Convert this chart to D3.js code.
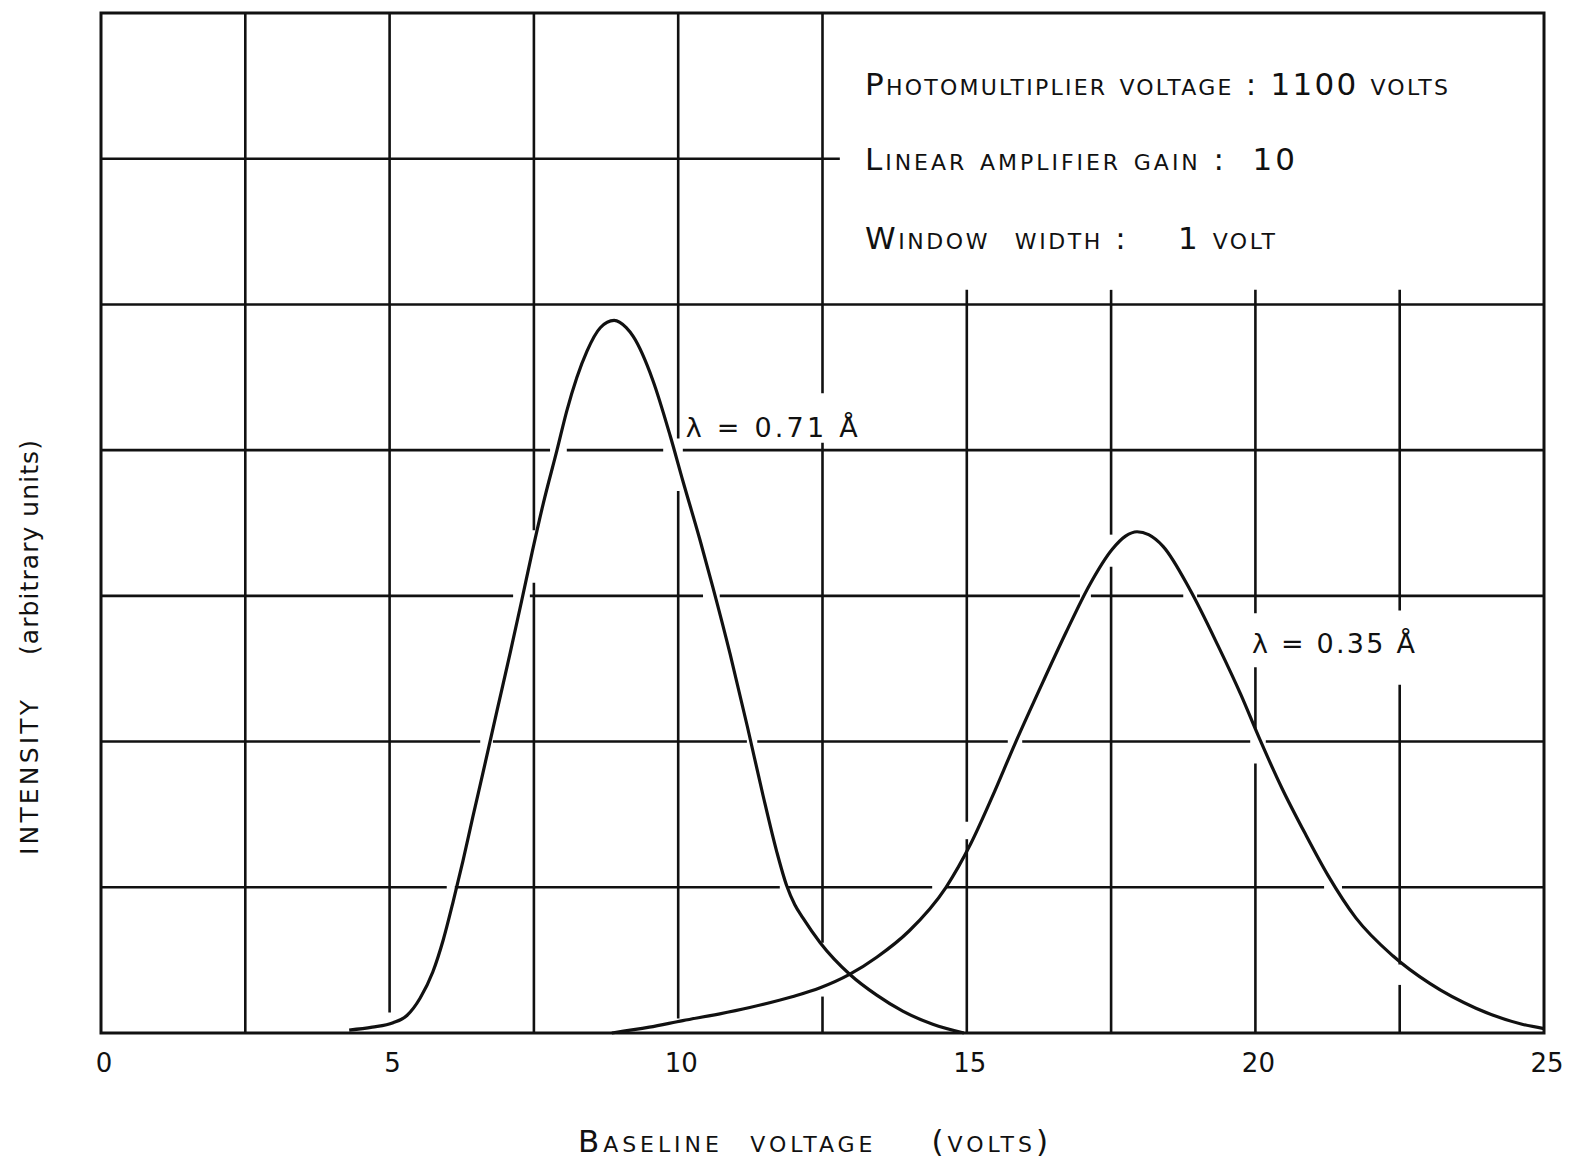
<!DOCTYPE html>
<html>
<head>
<meta charset="utf-8">
<script src="https://cdn.jsdelivr.net/npm/d3@7"></script>
<style>
  body { margin: 0; background: #fff; }
  svg { display: block; }
  text { font-family: "DejaVu Sans", sans-serif; fill: #111; }
  .sc { font-variant: small-caps; }
</style>
</head>
<body>
<svg id="chart" width="1569" height="1159"></svg>
<script>
// pulse height curve, lambda = 0.71 A
const voltsA = [4.3, 4.7, 5.06, 5.3, 5.53, 5.75, 5.93, 6.1, 6.27, 6.44, 6.62, 6.86, 7.09, 7.29, 7.47, 7.66, 7.9, 8.07, 8.42, 8.65, 8.89,
                9.1, 9.22, 9.56, 9.86, 10.08, 10.38, 10.6, 10.9, 11.2, 11.47, 11.71, 11.88, 12.02, 12.16, 12.46, 12.98, 13.44, 13.89, 14.41, 14.95];
const intensityA = [0.02, 0.04, 0.07, 0.12, 0.24, 0.42, 0.64, 0.9, 1.18, 1.48, 1.79, 2.21, 2.61, 2.97, 3.3, 3.63, 4.0, 4.27, 4.68, 4.84, 4.89,
                    4.84, 4.78, 4.48, 4.1, 3.79, 3.38, 3.06, 2.6, 2.1, 1.63, 1.24, 1.01, 0.88, 0.79, 0.62, 0.4, 0.26, 0.15, 0.06, 0.0];

// pulse height curve, lambda = 0.35 A
const voltsB = [8.85, 9.5, 10.08, 10.7, 11.24, 11.99, 12.46, 12.96, 13.44, 14.0, 14.64, 15.07, 15.44, 15.84, 16.32, 16.72, 17.12,
                17.52, 17.75, 17.95, 18.15, 18.4, 18.87, 19.35, 19.75, 20.06, 20.46, 20.86, 21.26, 21.74, 22.38, 23.02, 23.82, 24.62, 25.0];
const intensityB = [0.0, 0.04, 0.085, 0.13, 0.175, 0.25, 0.31, 0.4, 0.52, 0.7, 1.0, 1.3, 1.62, 1.99, 2.41, 2.75, 3.07,
                    3.32, 3.41, 3.44, 3.42, 3.34, 3.04, 2.66, 2.32, 2.03, 1.68, 1.37, 1.08, 0.79, 0.53, 0.34, 0.17, 0.06, 0.03];

const xTicks = [0, 5, 10, 15, 20, 25];
const settingsLines = ["Photomultiplier voltage : 1100 volts", "Linear amplifier gain :  10", "Window  width :    1 volt"];
const curveLabels = ["λ = 0.71 Å", "λ = 0.35 Å"];

// hand drawn grid: where each line starts/stops and where it was left open
const vGrid = [
  { x: 2.5, from: 0, to: 7, gaps: [] },
  { x: 5, from: 0.14, to: 7, gaps: [] },
  { x: 7.5, from: 0, to: 7, gaps: [[3.09, 3.45]] },
  { x: 10, from: 0.1, to: 7, gaps: [[3.72, 4.08]] },
  { x: 12.5, from: 0, to: 7, gaps: [[4.05, 4.39], [0.25, 0.62]] },
  { x: 15, from: 0, to: 5.1, gaps: [[1.33, 1.45]] },
  { x: 17.5, from: 0, to: 5.1, gaps: [[3.2, 3.42]] },
  { x: 20, from: 0, to: 5.1, gaps: [[2.51, 2.88], [1.85, 2.09]] },
  { x: 22.5, from: 0, to: 5.1, gaps: [[2.39, 2.9], [0.33, 0.47]] }
];
const hGrid = [
  { y: 1, from: 0, to: 25, gaps: [[5.99, 6.13], [11.76, 11.89], [14.4, 14.64], [21.19, 21.5]] },
  { y: 2, from: 0, to: 25, gaps: [[6.57, 6.79], [11.19, 11.37], [15.71, 15.96], [19.91, 20.18]] },
  { y: 3, from: 0, to: 25, gaps: [[7.14, 7.43], [10.43, 10.72], [16.96, 17.15], [18.75, 18.99]] },
  { y: 4, from: 0, to: 25, gaps: [[7.78, 8.07], [9.74, 10.08]] },
  { y: 5, from: 0, to: 25, gaps: [] },
  { y: 6, from: 0, to: 12.8, gaps: [] }
];

const svg = d3.select("#chart");
const x = d3.scaleLinear().domain([0, 25]).range([101, 1544]);
const y = d3.scaleLinear().domain([0, 7]).range([1033, 13]);

function pieces(lo, hi, gaps) {
  let out = [];
  let cur = lo;
  gaps.slice().sort((a, b) => a[0] - b[0]).forEach(g => {
    if (g[0] > cur) out.push([cur, Math.min(g[0], hi)]);
    cur = Math.max(cur, g[1]);
  });
  if (cur < hi) out.push([cur, hi]);
  return out;
}

const grid = svg.append("g")
  .attr("stroke", "#111")
  .attr("stroke-width", 2.6)
  .attr("fill", "none");

vGrid.forEach(d => {
  pieces(d.from, d.to, d.gaps).forEach(p => {
    grid.append("line")
      .attr("x1", x(d.x)).attr("x2", x(d.x))
      .attr("y1", y(p[0])).attr("y2", y(p[1]));
  });
});
hGrid.forEach(d => {
  pieces(d.from, d.to, d.gaps).forEach(p => {
    grid.append("line")
      .attr("y1", y(d.y)).attr("y2", y(d.y))
      .attr("x1", x(p[0])).attr("x2", x(p[1]));
  });
});

// frame
svg.append("rect")
  .attr("x", x(0)).attr("y", y(7))
  .attr("width", x(25) - x(0)).attr("height", y(0) - y(7))
  .attr("fill", "none")
  .attr("stroke", "#111")
  .attr("stroke-width", 3);

// curves
const line = d3.line()
  .x(d => x(d[0]))
  .y(d => y(d[1]))
  .curve(d3.curveMonotoneX);

[[voltsA, intensityA], [voltsB, intensityB]].forEach(s => {
  svg.append("path")
    .datum(d3.zip(s[0], s[1]))
    .attr("d", line)
    .attr("fill", "none")
    .attr("stroke", "#111")
    .attr("stroke-width", 3.2)
    .attr("stroke-linejoin", "round");
});

// curve labels
svg.append("text")
  .attr("x", x(10.13)).attr("y", y(4.09))
  .attr("font-size", 27)
  .attr("textLength", 172).attr("lengthAdjust", "spacing")
  .text(curveLabels[0]);
svg.append("text")
  .attr("x", x(19.94)).attr("y", y(2.61))
  .attr("font-size", 27)
  .attr("textLength", 163).attr("lengthAdjust", "spacing")
  .text(curveLabels[1]);

// settings box text
const boxWidths = [583, 430, 410];
const boxBase = [95, 170, 249];
settingsLines.forEach((t, i) => {
  svg.append("text")
    .attr("class", "sc")
    .attr("x", 865).attr("y", boxBase[i])
    .attr("font-size", 31)
    .attr("textLength", boxWidths[i]).attr("lengthAdjust", "spacing")
    .style("white-space", "pre")
    .text(t);
});

// x tick labels
svg.append("g")
  .selectAll("text")
  .data(xTicks)
  .join("text")
  .attr("x", d => x(d) + 3)
  .attr("y", 1072)
  .attr("text-anchor", "middle")
  .attr("font-size", 26)
  .text(d => d);

// axis titles
svg.append("text")
  .attr("class", "sc")
  .attr("x", 578).attr("y", 1152)
  .attr("font-size", 31)
  .attr("textLength", 470).attr("lengthAdjust", "spacing")
  .style("white-space", "pre")
  .text("Baseline  voltage    (volts)");

svg.append("text")
  .attr("transform", "translate(38,855) rotate(-90)")
  .attr("font-size", 25)
  .attr("textLength", 155).attr("lengthAdjust", "spacing")
  .text("INTENSITY");
svg.append("text")
  .attr("transform", "translate(38,655) rotate(-90)")
  .attr("font-size", 25)
  .attr("textLength", 215).attr("lengthAdjust", "spacing")
  .text("(arbitrary  units)");
</script>
</body>
</html>
